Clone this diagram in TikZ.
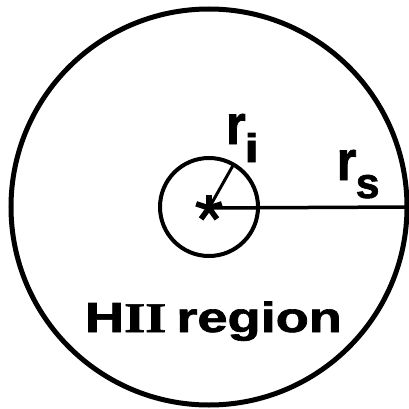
\documentclass[tikz,border=0pt]{standalone}
\usepackage{fontspec}
\setmainfont{Liberation Sans}
\newfontfamily\hsans[FakeBold=1.5]{Liberation Sans Bold}
\newfontfamily\hserif[FakeBold=1.5]{Liberation Serif Bold}
\begin{document}
\begin{tikzpicture}[x=1pt,y=-1pt,
  ring/.style={circle, draw, inner sep=0pt, outer sep=0pt},
  lbl/.style={inner sep=0pt, outer sep=0pt, anchor=base west, font=\hsans}]
\useasboundingbox (0,0) rectangle (409,409);
\node[ring, line width=5pt, minimum size=396pt] (big) at (209,207) {};
\node[ring, line width=4pt, minimum size=98pt] (small) at (209,207) {};
\coordinate (star) at (209,208);
\draw[line width=3.5pt] (star) -- (big.east);
\draw[line width=3pt] (star) -- (small.60);
\foreach \a in {90,18,162,234,306} \draw[line width=5.5pt] (star) -- ++(\a:13.5pt);
\node[lbl] (ri) at (226,144) {\fontsize{44}{44}\selectfont\scalebox{1.15}[1.27]{r}};
\node[lbl] (ris) at (244.5,162) {\fontsize{40}{40}\selectfont\scalebox{1.3}[1]{i}};
\node[lbl] (rs) at (336.7,180) {\fontsize{44}{44}\selectfont\scalebox{1.15}[1.27]{r}};
\node[lbl] (rss) at (355.7,198) {\fontsize{43}{43}\selectfont s};
\node[lbl] (hii) at (85,332) {\fontsize{43}{43}\selectfont\scalebox{1.26}[0.98]{H{\hserif II}\hspace{8pt}region}};
\end{tikzpicture}
\end{document}
